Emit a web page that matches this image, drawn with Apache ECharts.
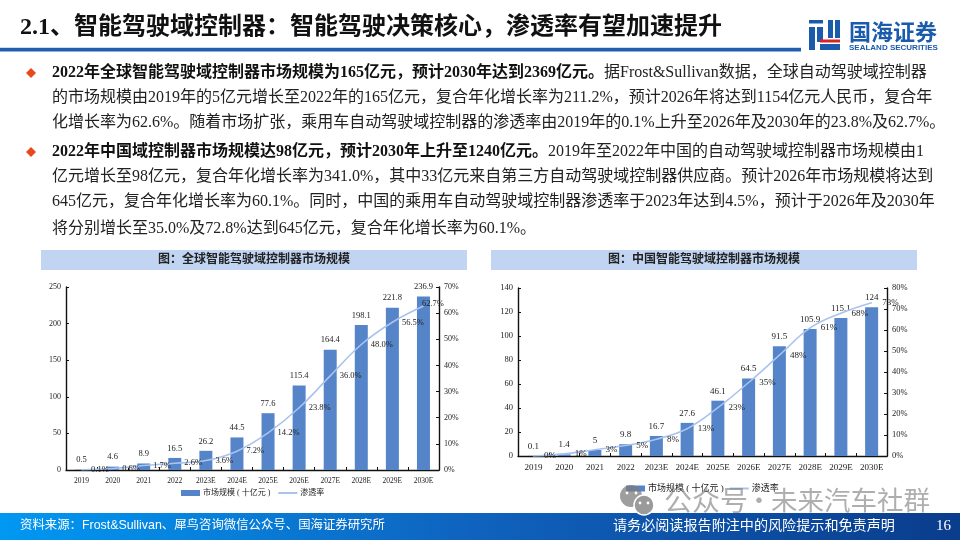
<!DOCTYPE html>
<html>
<head>
<meta charset="utf-8">
<style>html,body{margin:0;padding:0;background:#fff}#main{width:960px;height:540px}</style>
<script src="https://cdn.jsdelivr.net/npm/echarts@6/dist/echarts.min.js"></script>
</head>
<body>
<div id="main"></div>
<script>
var years = ['2019','2020','2021','2022','2023E','2024E','2025E','2026E','2027E','2028E','2029E','2030E'];
var globalSize = [0.5,4.6,8.9,16.5,26.2,44.5,77.6,115.4,164.4,198.1,221.8,236.9];
var globalRate = [0.1,0.6,1.7,2.6,3.6,7.2,14.2,23.8,36.0,48.0,56.5,62.7];
var chinaSize = [0.1,1.4,5,9.8,16.7,27.6,46.1,64.5,91.5,105.9,115.1,124];
var chinaRate = [0,1,3,5,8,13,23,35,48,61,68,73];
var barName = '市场规模 ( 十亿元 )';
var lineName = '渗透率';

var titleText = '2.1、智能驾驶域控制器：智能驾驶决策核心，渗透率有望加速提升';
var para = [
  [['2022年全球智能驾驶域控制器市场规模为165亿元，预计2030年达到2369亿元。', 1], ['据Frost&Sullivan数据，全球自动驾驶域控制器', 0]],
  [['的市场规模由2019年的5亿元增长至2022年的165亿元，复合年化增长率为211.2%，预计2026年将达到1154亿元人民币，复合年', 0]],
  [['化增长率为62.6%。随着市场扩张，乘用车自动驾驶域控制器的渗透率由2019年的0.1%上升至2026年及2030年的23.8%及62.7%。', 0]],
  [['2022年中国域控制器市场规模达98亿元，预计2030年上升至1240亿元。', 1], ['2019年至2022年中国的自动驾驶域控制器市场规模由1', 0]],
  [['亿元增长至98亿元，复合年化增长率为341.0%，其中33亿元来自第三方自动驾驶域控制器供应商。预计2026年市场规模将达到', 0]],
  [['645亿元，复合年化增长率为60.1%。同时，中国的乘用车自动驾驶域控制器渗透率于2023年达到4.5%，预计于2026年及2030年', 0]],
  [['将分别增长至35.0%及72.8%达到645亿元，复合年化增长率为60.1%。', 0]]
];
var paraY = [73,98,123,152,177,202,229];

var serif = '"Liberation Serif","Noto Sans CJK SC"';
var sans = '"Liberation Sans","Noto Sans CJK SC"';
var blue = '#1a5bab';

var g = [];
// title + rule
g.push({type:'text',x:20,y:28,style:{text:titleText,font:'bold 24px '+serif,fill:'#111',textVerticalAlign:'middle'}});
g.push({type:'rect',shape:{x:0,y:47,width:801,height:1},style:{fill:'#cfdcec'}});
g.push({type:'rect',shape:{x:0,y:48,width:801,height:3.5},style:{fill:'#1f5fae'}});
// logo
[[809,20,14,3.5],[809,27,6,23],[817,27,6,15],[828,20,5,18],[835,20,5,18],[820,44,20,6]].forEach(function (r) {
  g.push({type:'rect',shape:{x:r[0],y:r[1],width:r[2],height:r[3]},style:{fill:blue}});
});
g.push({type:'rect',shape:{x:820,y:39.5,width:20,height:3},style:{fill:'#d8222a'}});
g.push({type:'text',x:849,y:32,style:{text:'国海证券',font:'bold 22px "Noto Sans CJK SC"',fill:blue,textVerticalAlign:'middle'}});
g.push({type:'text',x:849,y:48,style:{text:'SEALAND SECURITIES',font:'bold 8px "Liberation Sans"',fill:blue,textVerticalAlign:'middle'}});
// body text
[0,3].forEach(function (i) {
  g.push({type:'polygon',shape:{points:[[31,paraY[i]-5],[36,paraY[i]],[31,paraY[i]+5],[26,paraY[i]]]},style:{fill:'#e8481c'}});
});
para.forEach(function (line, i) {
  var rich = {b:{font:'bold 16px '+serif,fill:'#111'},n:{font:'16px '+serif,fill:'#222'}};
  var s = line.map(function (p) { return '{'+(p[1]?'b':'n')+'|'+p[0]+'}'; }).join('');
  g.push({type:'text',x:52,y:paraY[i],style:{text:s,rich:rich,textVerticalAlign:'middle'}});
});
// chart header bars
g.push({type:'rect',shape:{x:41,y:250,width:426,height:20},style:{fill:'#c1d5f3'}});
g.push({type:'rect',shape:{x:491,y:250,width:426,height:20},style:{fill:'#c1d5f3'}});
g.push({type:'text',x:254,y:260,style:{text:'图：全球智能驾驶域控制器市场规模',font:'bold 12px '+sans,fill:'#222',textAlign:'center',textVerticalAlign:'middle'}});
g.push({type:'text',x:704,y:260,style:{text:'图：中国智能驾驶域控制器市场规模',font:'bold 12px '+sans,fill:'#222',textAlign:'center',textVerticalAlign:'middle'}});
// footer
g.push({type:'rect',shape:{x:0,y:513,width:960,height:27},style:{fill:new echarts.graphic.LinearGradient(0,0,1,0,[
  {offset:0,color:'#0098f2'},{offset:0.5,color:'#0f62bd'},{offset:1,color:'#0a3c8c'}])}});
g.push({type:'text',x:20,y:526,style:{text:'资料来源：Frost&Sullivan、犀鸟咨询微信公众号、国海证券研究所',font:'12.4px '+sans,fill:'#fff',textVerticalAlign:'middle'}});
g.push({type:'text',x:613,y:526,style:{text:'请务必阅读报告附注中的风险提示和免责声明',font:'14.1px '+sans,fill:'#fff',textVerticalAlign:'middle'}});
g.push({type:'text',x:936,y:526,style:{text:'16',font:'15px "Liberation Serif"',fill:'#fff',textVerticalAlign:'middle'}});
// watermark
g.push({type:'circle',z:50,shape:{cx:631,cy:496,r:11},style:{fill:'rgba(125,125,125,0.75)'}});
g.push({type:'circle',z:51,shape:{cx:644,cy:505,r:10},style:{fill:'#9a9a9a',stroke:'#fff',lineWidth:1.5}});
[[627,493],[636,493],[640,503],[648,503]].forEach(function (p) {
  g.push({type:'circle',z:52,shape:{cx:p[0],cy:p[1],r:1.4},style:{fill:'#fff'}});
});
g.push({type:'text',z:50,x:664,y:500,style:{text:'公众号',font:'28px "Noto Sans CJK SC"',fill:'rgba(120,120,120,0.6)',textVerticalAlign:'middle'}});
g.push({type:'text',z:50,x:759,y:500,style:{text:'·',font:'26px "Noto Sans CJK SC"',fill:'rgba(120,120,120,0.6)',textAlign:'center',textVerticalAlign:'middle'}});
g.push({type:'text',z:50,x:771,y:500,style:{text:'未来汽车社群',font:'26.5px "Noto Sans CJK SC"',fill:'rgba(120,120,120,0.6)',textVerticalAlign:'middle'}});

function lineData(rate, offs) {
  return rate.map(function (v, i) {
    var d = {value:v};
    if (i === rate.length - 1) d.label = {offset:offs};
    return d;
  });
}

var axisLine = {show:true,lineStyle:{color:'#111',width:1.4}};
var tickStyle = {show:true,inside:true,length:3,lineStyle:{color:'#111',width:1}};

function makeX(idx, size) {
  return {type:'category',gridIndex:idx,data:years,axisLine:axisLine,
    axisTick:{show:true,inside:true,length:3,lineStyle:{color:'#111'}},
    axisLabel:{color:'#222',fontFamily:'Liberation Serif',fontSize:size,margin:7,interval:0}};
}
function makeY(idx, max, interval, pos, fmt, size) {
  return {type:'value',gridIndex:idx,min:0,max:max,interval:interval,position:pos,
    splitLine:{show:false},axisLine:axisLine,axisTick:tickStyle,
    axisLabel:{margin:5,formatter:fmt,color:'#222',fontFamily:'Liberation Serif',fontSize:size}};
}
function makeBar(name, data, x, y, size) {
  return {name:name,type:'bar',xAxisIndex:x,yAxisIndex:y,data:data,barWidth:13,
    itemStyle:{color:'#5585c8'},
    label:{show:true,position:'top',distance:5,color:'#222',fontFamily:'Liberation Serif',fontSize:size},
    animation:false};
}
function makeLine(name, data, x, y, dist, fmt, size) {
  return {name:name,type:'line',xAxisIndex:x,yAxisIndex:y,data:data,smooth:0.4,showSymbol:true,symbol:'circle',symbolSize:1,
    lineStyle:{color:'#a9c3ee',width:1.6},itemStyle:{color:'#a9c3ee'},
    label:{show:true,position:'right',distance:dist,color:'#222',fontFamily:'Liberation Serif',fontSize:size,formatter:fmt},
    z:5,animation:false};
}

var myChart = echarts.init(document.getElementById('main'));
var option = {
  animation:false,
  graphic:{elements:g},
  grid:[
    {left:66,right:521,top:287,bottom:70},
    {left:518,right:73,top:288,bottom:84}
  ],
  legend:[
    {left:181,top:489,padding:0,itemWidth:19,itemHeight:6,itemGap:5,
     data:[{name:barName+' ',icon:'rect'},{name:lineName+' ',itemStyle:{opacity:0}}],
     textStyle:{fontSize:8,color:'#222',fontFamily:serif,padding:[0,0,0,-2]}},
    {left:626,top:484,padding:0,itemWidth:19,itemHeight:6,itemGap:5,
     data:[{name:barName,icon:'rect'},{name:lineName,itemStyle:{opacity:0}}],
     textStyle:{fontSize:9,color:'#222',fontFamily:serif,padding:[0,0,0,-2]}}
  ],
  xAxis:[makeX(0,7.5),makeX(1,9)],
  yAxis:[
    makeY(0,250,50,'left','{value}',8),
    makeY(0,70,10,'right','{value}%',8),
    makeY(1,140,20,'left','{value}',8.5),
    makeY(1,80,10,'right','{value}%',8.5)
  ],
  series:[
    makeBar(barName+' ',globalSize,0,0,8.5),
    makeLine(lineName+' ',lineData(globalRate,[-11,-2]),0,1,9,function (p) { return p.value.toFixed(1)+'%'; },8.5),
    makeBar(barName,chinaSize,1,2,9),
    makeLine(lineName,lineData(chinaRate,[0,0]),1,3,10,'{c}%',9)
  ]
};
myChart.setOption(option);
</script>
</body>
</html>
